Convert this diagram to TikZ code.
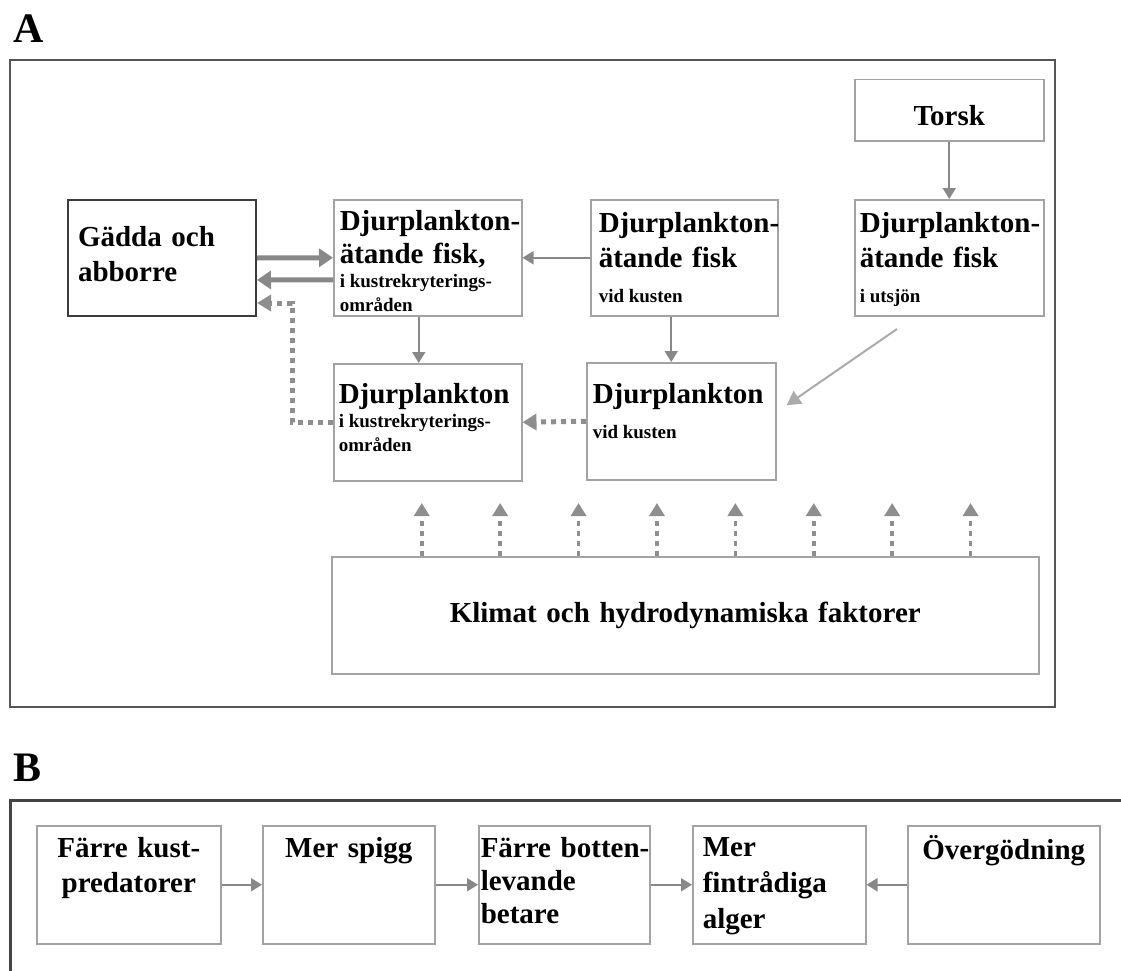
\documentclass[tikz,border=0pt]{standalone}
\usepackage{fontspec}
\setmainfont{Liberation Serif}
\usetikzlibrary{arrows.meta}
\definecolor{boxgray}{HTML}{A3A3A3}
\definecolor{boxdark}{HTML}{3C3C3C}
\definecolor{framegray}{HTML}{555555}
\definecolor{framedark}{HTML}{444444}
\definecolor{arrowgray}{HTML}{888888}
\definecolor{dotgray}{HTML}{8E8E8E}
\definecolor{diaggray}{HTML}{ABABAB}
\newcommand{\hdfont}{\fontsize{29}{35}\selectfont\bfseries}
\newcommand{\smfont}{\fontsize{19}{24}\selectfont\bfseries\spaceskip=0pt\xspaceskip=0pt\relax}
\newcommand{\panelfont}{\fontsize{42}{42}\selectfont\bfseries}
\tikzset{
  box/.style={draw=boxgray, line width=1.5pt, anchor=north west, inner xsep=6pt, inner ysep=0pt, align=left, font=\hdfont},
  fatarrow/.style={draw=arrowgray, line width=5pt, -{Triangle[length=14pt,width=18pt]}},
  thinarrow/.style={draw=arrowgray, line width=2pt, -{Triangle[length=11pt,width=13pt]}},
  dotarrow/.style={draw=dotgray, line width=5pt, dash pattern=on 5pt off 5pt, -{Triangle[length=14pt,width=16pt]}},
  climarrow/.style={draw=dotgray, line width=3.5pt, dash pattern=on 5pt off 5pt, -{Triangle[length=13pt,width=15pt]}},
  diagarrow/.style={draw=diaggray, line width=2pt, -{Triangle[length=14pt,width=15pt]}}
}
\hyphenpenalty=10000
\exhyphenpenalty=10000
\begin{document}
\begin{tikzpicture}[x=1pt,y=-1pt]
\useasboundingbox (0,0) rectangle (1121,971);
\draw [draw=framegray, line width=2pt] (10,60) rectangle (1055,707);
\draw [draw=framedark, line width=3pt] (10,975) -- (10,800) -- (1125,800);
\node [anchor=base west, font=\panelfont] (labA) at (10,43) {A};
\node [anchor=base west, font=\panelfont] (labB) at (10,781) {B};

\node [box, draw=boxdark, line width=2pt, inner xsep=10pt, text width=168pt, text height=46pt, text depth=70pt] (gadda) at (67,199) {Gädda och\\abborre};
\node [box, text width=176pt, text height=31pt, text depth=85pt] (dfisk1) at (333,199) {Djurplankton-\\[-2pt]ätande fisk,\par\smfont i kustrekryterings-\par områden\par};
\node [box, inner xsep=8pt, text width=171pt, text height=33pt, text depth=83pt] (dfisk2) at (590,199) {Djurplankton-\\ätande fisk\par\smfont vid kusten};
\node [box, inner xsep=5pt, text width=179pt, text height=33pt, text depth=83pt] (dfisk3) at (854,199) {Djurplankton-\\ätande fisk\par\smfont i utsjön};
\node [box, inner xsep=5pt, align=center, text width=179pt, text height=46pt, text depth=15pt] (torsk) at (854,79) {Torsk};
\node [box, inner xsep=5pt, text width=178pt, text height=40pt, text depth=77pt] (dp1) at (333,363) {Djurplankton\par\smfont i kustrekryterings-\par områden\par};
\node [box, text width=177pt, text height=41pt, text depth=76pt] (dp2) at (586,362) {Djurplankton\par\smfont vid kusten};
\node [box, inner xsep=5pt, align=center, text width=697pt, text height=66pt, text depth=51pt] (klimat) at (331,556) {Klimat och hydrodynamiska faktorer};

\draw [fatarrow] (gadda.east) -- (dfisk1.west);
\draw [fatarrow] ([yshift=-22pt]dfisk1.west) -- ([yshift=-22pt]gadda.east);
\draw [dotarrow] (dp1.west) -- ++(-41,0) |- ([yshift=-45pt]gadda.east);
\draw [thinarrow] (dfisk2.west) -- (dfisk1.east);
\draw [thinarrow] ([xshift=-9pt]dfisk1.south) -- ([xshift=-9pt]dp1.north);
\draw [thinarrow] ([xshift=-13pt]dfisk2.south) -- ([xshift=-10pt]dp2.north);
\draw [thinarrow] (torsk.south) -- (dfisk3.north);
\draw [dotarrow] (dp2.west) -- (dp1.east);
\coordinate (dstart) at (897,329);
\draw [diagarrow] (dstart) -- ([shift={(10pt,16pt)}]dp2.east);
\foreach \i in {0,...,7}
  \draw [climarrow] ([xshift=-263.5pt+\i*78.4pt]klimat.north) -- ++(0,-53);

\node [box, align=center, text width=172pt, text height=32pt, text depth=86pt] (fk) at (36,825) {Färre kust-\\predatorer};
\node [box, align=center, text width=160pt, text height=32pt, text depth=86pt] (ms) at (262,825) {Mer spigg};
\node [box, inner xsep=2pt, text width=167pt, text height=32pt, text depth=86pt] (fb) at (478,825) {Färre~botten-\\[-2pt]levande\\[-2pt]betare};
\node [box, inner xsep=10pt, text width=153pt, text height=31pt, text depth=87pt] (mf) at (692,825) {Mer\\[1pt]fintrådiga\\[1pt]alger};
\node [box, align=center, text width=180pt, text height=34pt, text depth=84pt] (og) at (907,825) {Övergödning};

\draw [thinarrow] (fk.east) -- (ms.west);
\draw [thinarrow] (ms.east) -- (fb.west);
\draw [thinarrow] (fb.east) -- (mf.west);
\draw [thinarrow] (og.west) -- (mf.east);
\end{tikzpicture}
\end{document}
